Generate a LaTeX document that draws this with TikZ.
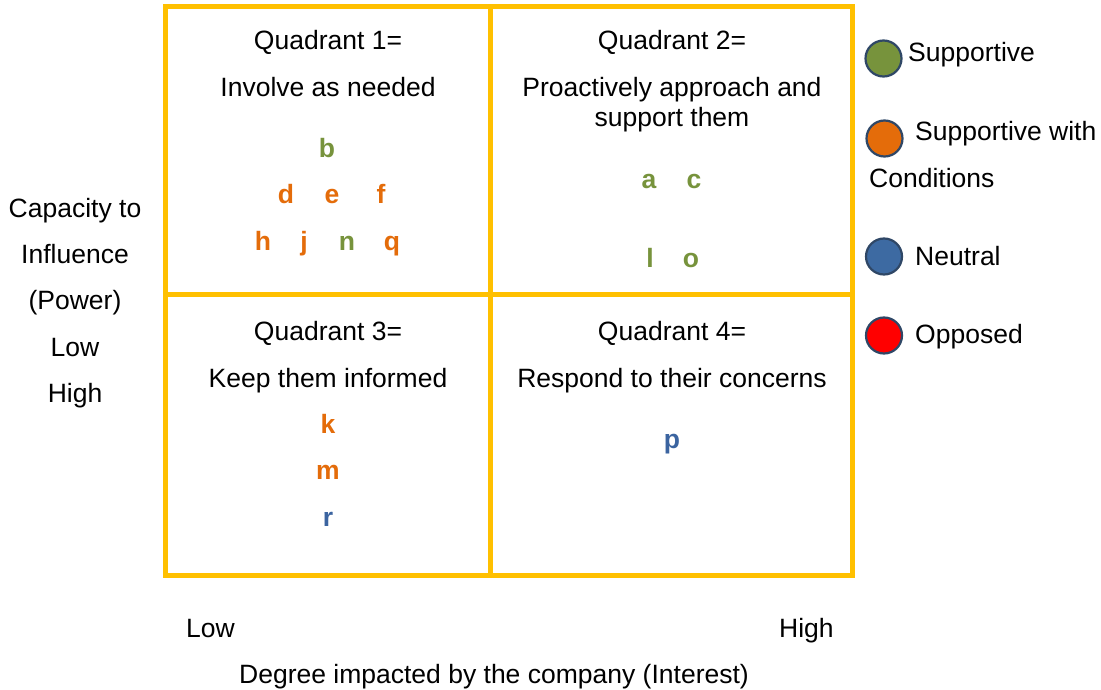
\documentclass[tikz,border=0pt]{standalone}
\usepackage{fontspec}
\setmainfont{Liberation Sans}
\definecolor{gridgold}{HTML}{FFC000}
\definecolor{supgreen}{HTML}{77933C}
\definecolor{condorange}{HTML}{E46C0A}
\definecolor{neutblue}{HTML}{3B64A0}
\definecolor{dotblue}{HTML}{3D6AA2}
\definecolor{oppred}{HTML}{FF0000}
\definecolor{rimnavy}{HTML}{2F4766}
\tikzset{
  txt/.style={font=\fontsize{26.5}{30}\selectfont, inner sep=0pt, anchor=base, text=black},
  ltr/.style={font=\fontsize{26.5}{30}\selectfont\bfseries, inner sep=0pt, anchor=base},
  lgd/.style={txt, anchor=base west},
  dot/.style={circle, minimum size=36pt, inner sep=0pt, line width=2.2pt, draw=rimnavy},
  gridline/.style={draw=gridgold, line width=5pt}
}
\begin{document}
\begin{tikzpicture}[x=1pt, y=-1pt]
\useasboundingbox (0,0) rectangle (1101,690);
\fill[white] (0,0) rectangle (1101,690);

% quadrant grid
\coordinate (tl) at (165.5,6.5);
\coordinate (br) at (852.5,575.5);
\coordinate (mt) at (490.5,6.5);
\coordinate (mb) at (490.5,575.5);
\coordinate (ml) at (165.5,294.5);
\coordinate (mr) at (852.5,294.5);
\draw[gridline, line join=miter] (tl) rectangle (br);
\draw[gridline] (mt) -- (mb);
\draw[gridline] (ml) -- (mr);

% quadrant 1
\node[txt] (q1a) at (328,50) {Quadrant 1=};
\node[txt] (q1b) at (328,97) {Involve as needed};
\node[ltr, text=supgreen]   (sb) at (327,158) {b};
\node[ltr, text=condorange] (sd) at (286,204) {d};
\node[ltr, text=condorange] (se) at (332,204) {e};
\node[ltr, text=condorange] (sf) at (381,204) {f};
\node[ltr, text=condorange] (sh) at (263,250) {h};
\node[ltr, text=condorange] (sj) at (304,250) {j};
\node[ltr, text=supgreen]   (sn) at (347,250) {n};
\node[ltr, text=condorange] (sq) at (392,250) {q};

% quadrant 2
\node[txt] (q2a) at (672,50) {Quadrant 2=};
\node[txt] (q2b) at (672,97) {Proactively approach and};
\node[txt] (q2c) at (672,127) {support them};
\node[ltr, text=supgreen] (sa) at (649,189) {a};
\node[ltr, text=supgreen] (sc) at (694,189) {c};
\node[ltr, text=supgreen] (sl) at (650,267) {l};
\node[ltr, text=supgreen] (so) at (691,267) {o};

% quadrant 3
\node[txt] (q3a) at (328,340) {Quadrant 3=};
\node[txt] (q3b) at (328,387) {Keep them informed};
\node[ltr, text=condorange] (sk) at (328,433) {k};
\node[ltr, text=condorange] (sm) at (328,479) {m};
\node[ltr, text=neutblue]   (sr) at (328,526) {r};

% quadrant 4
\node[txt] (q4a) at (672,340) {Quadrant 4=};
\node[txt] (q4b) at (672,387) {Respond to their concerns};
\node[ltr, text=neutblue] (sp) at (672,448) {p};

% vertical axis caption
\node[txt] (ya) at (75,217) {Capacity to};
\node[txt] (yb) at (75,263) {Influence};
\node[txt] (yc) at (75,309) {(Power)};
\node[txt] (yd) at (75,356) {Low};
\node[txt] (ye) at (75,402) {High};

% horizontal axis caption
\node[txt, anchor=base west] (xlo) at (186,637) {Low};
\node[txt, anchor=base west] (xhi) at (779,637) {High};
\node[txt] (xt) at (494,683) {Degree impacted by the company (Interest)};

% legend
\node[dot, fill=supgreen]   (c1) at (883.5,58.5) {};
\node[dot, fill=condorange] (c2) at (884.5,138.5) {};
\node[dot, fill=dotblue]    (c3) at (884,256.5) {};
\node[dot, fill=oppred]     (c4) at (884,335.5) {};
\node[lgd] (l1) at (908,62) {Supportive};
\node[lgd] (l2) at (915,141) {Supportive with};
\node[lgd] (l2b) at (869,187) {Conditions};
\node[lgd] (l3) at (915,265) {Neutral};
\node[lgd] (l4) at (915,343) {Opposed};
\end{tikzpicture}
\end{document}
